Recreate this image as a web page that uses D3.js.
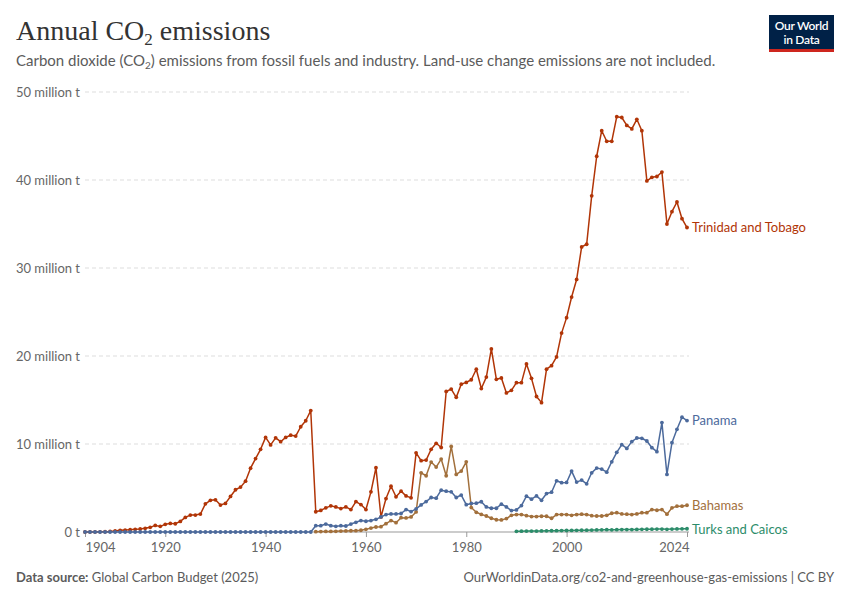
<!DOCTYPE html>
<html>
<head>
<meta charset="utf-8">
<script src="https://cdn.jsdelivr.net/npm/d3@7"></script>
<style>
  body { margin: 0; background: #fff; }
  svg { font-family: Lato, "Noto Sans", sans-serif; }
  .tick-label { fill: #666; font-size: 13px; }
  .series-label { font-size: 13px; }
</style>
</head>
<body>
<div id="chart"></div>
<script>
// chart data (million tonnes CO2)
const xTicks = [1904, 1920, 1940, 1960, 1980, 2000, 2024];
const yTicks = [0, 10, 20, 30, 40, 50];

const trinidadStart = 1904;
const trinidadValues = [
  0.0, 0.01, 0.01, 0.02, 0.03, 0.06, 0.12, 0.19, 0.22, 0.26,          // 1904-1913
  0.3, 0.34, 0.42, 0.53, 0.75, 0.64, 0.87, 0.98, 0.94, 1.2,           // 1914-1923
  1.66, 1.92, 1.92, 2.04, 3.2, 3.6, 3.66, 3.06, 3.25, 4.04,           // 1924-1933
  4.8, 5.1, 5.77, 7.25, 8.34, 9.4, 10.75, 9.9, 10.7, 10.26,           // 1934-1943
  10.75, 11.0, 10.9, 11.96, 12.64, 13.8, 2.3, 2.45, 2.74, 2.97,       // 1944-1953
  2.85, 2.66, 2.85, 2.55, 3.46, 3.12, 2.55, 4.56, 7.3, 1.71,          // 1954-1963
  3.8, 5.2, 4.0, 4.64, 4.1, 3.88, 9.0, 8.1, 8.17, 9.4,                // 1964-1973
  10.08, 9.6, 15.97, 16.24, 15.3, 16.8, 17.0, 17.3, 18.5, 16.3,       // 1974-1983
  17.6, 20.8, 17.35, 17.5, 15.8, 16.1, 16.97, 16.97, 19.1, 17.46,     // 1984-1993
  15.4, 14.7, 18.5, 18.9, 19.9, 22.6, 24.36, 26.7, 28.7, 32.4,        // 1994-2003
  32.7, 38.2, 42.7, 45.6, 44.4, 44.4, 47.2, 47.1, 46.2, 45.8,         // 2004-2013
  46.9, 45.6, 39.9, 40.3, 40.4, 40.9, 35.0, 36.4, 37.5, 35.6,         // 2014-2023
  34.6                                                                 // 2024
];

const panamaStart = 1904;
const panamaValues = [
  0, 0, 0, 0, 0, 0, 0, 0, 0, 0,                                        // 1904-1913
  0, 0, 0, 0, 0, 0, 0, 0, 0, 0,                                        // 1914-1923
  0, 0, 0, 0, 0, 0, 0, 0, 0, 0,                                        // 1924-1933
  0, 0, 0, 0, 0, 0, 0, 0, 0, 0,                                        // 1934-1943
  0, 0, 0, 0, 0, 0, 0.72, 0.72, 0.9, 0.72,                             // 1944-1953
  0.65, 0.72, 0.68, 0.9, 1.1, 1.3, 1.22, 1.3, 1.44, 1.71,             // 1954-1963
  1.98, 2.05, 2.05, 2.1, 2.55, 2.32, 2.62, 3.08, 3.46, 3.92,          // 1964-1973
  3.84, 4.75, 4.64, 4.56, 3.92, 4.2, 3.1, 3.25, 3.27, 3.44,           // 1974-1983
  2.85, 2.7, 2.7, 3.16, 2.85, 2.43, 2.51, 3.0, 4.07, 3.73,            // 1984-1993
  4.1, 3.6, 4.37, 4.52, 5.82, 5.6, 5.63, 6.92, 5.67, 5.9,             // 1994-2003
  5.48, 6.73, 7.26, 7.15, 6.8, 7.98, 9.05, 9.92, 9.5, 10.27,          // 2004-2013
  10.68, 10.65, 10.34, 9.58, 9.13, 12.43, 6.54, 10.15, 11.67, 13.04,  // 2014-2023
  12.66                                                                // 2024
];

const bahamasStart = 1950;
const bahamasValues = [
  0.04, 0.05, 0.06, 0.07, 0.08, 0.1, 0.12, 0.14, 0.15, 0.2,           // 1950-1959
  0.3, 0.45, 0.57, 0.6, 0.95, 1.3, 1.06, 1.63, 1.6, 1.71,             // 1960-1969
  2.28, 6.73, 6.39, 7.95, 7.38, 8.29, 6.39, 9.73, 6.54, 6.92,         // 1970-1979
  7.98, 2.78, 2.24, 2.0, 1.82, 1.56, 1.39, 1.37, 1.52, 1.9,           // 1980-1989
  1.98, 1.98, 1.86, 1.75, 1.75, 1.79, 1.79, 1.56, 1.98, 1.98,         // 1990-1999
  1.98, 1.9, 1.98, 2.02, 1.98, 1.86, 1.82, 1.82, 1.9, 2.13,           // 2000-2009
  2.2, 2.05, 2.02, 1.98, 2.05, 2.2, 2.2, 2.55, 2.47, 2.55,            // 2010-2019
  2.02, 2.74, 2.93, 2.93, 3.04                                         // 2020-2024
];

const turksStart = 1990;
const turksValues = [
  0.08, 0.09, 0.1, 0.1, 0.11, 0.12, 0.13, 0.14, 0.15, 0.16,           // 1990-1999
  0.17, 0.18, 0.19, 0.2, 0.21, 0.22, 0.24, 0.25, 0.26, 0.25,          // 2000-2009
  0.26, 0.27, 0.28, 0.28, 0.29, 0.3, 0.31, 0.32, 0.33, 0.33,          // 2010-2019
  0.3, 0.33, 0.35, 0.36, 0.37                                          // 2020-2024
];

const seriesNames = ["Trinidad and Tobago", "Panama", "Bahamas", "Turks and Caicos"];
const seriesColors = ["#b13507", "#4c6a9c", "#a2703c", "#2c8c6a"];

const toPoints = (start, values) => values.map((v, i) => ({year: start + i, value: v}));
const series = [
  toPoints(trinidadStart, trinidadValues),
  toPoints(panamaStart, panamaValues),
  toPoints(bahamasStart, bahamasValues),
  toPoints(turksStart, turksValues)
];

// chart static params
const width = 850, height = 600;
const plot = {left: 85, right: 687, top: 92, bottom: 532};

const svg = d3.select("#chart")
  .append("svg")
    .attr("width", width)
    .attr("height", height);

const x = d3.scaleLinear().domain([1904, 2024]).range([plot.left, plot.right]);
const y = d3.scaleLinear().domain([0, 50]).range([plot.bottom, plot.top]);

// title + subtitle
const title = svg.append("text")
  .attr("x", 16).attr("y", 40)
  .style("font-family", "'Liberation Serif', 'DejaVu Serif', serif")
  .style("font-size", "28px")
  .attr("fill", "#333");
title.append("tspan").text("Annual CO");
title.append("tspan").text("2").style("font-size", "17px").attr("dy", 5);
title.append("tspan").text(" emissions").attr("dy", -5);

const sub = svg.append("text")
  .attr("x", 16).attr("y", 66)
  .style("font-size", "15px")
  .attr("fill", "#5b5b5b");
sub.append("tspan").text("Carbon dioxide (CO");
sub.append("tspan").text("2").style("font-size", "10px").attr("dy", 3);
sub.append("tspan").text(") emissions from fossil fuels and industry. Land-use change emissions are not included.").attr("dy", -3);

// logo
const logo = svg.append("g").attr("transform", "translate(769,15)");
logo.append("rect").attr("width", 65).attr("height", 37).attr("fill", "#002147");
logo.append("rect").attr("y", 34).attr("width", 65).attr("height", 3).attr("fill", "#ce261e");
logo.append("text").attr("x", 32.5).attr("y", 15).attr("text-anchor", "middle")
  .attr("fill", "#fff").style("font-size", "12px").style("font-weight", "600")
  .style("letter-spacing", "-0.3px").text("Our World");
logo.append("text").attr("x", 32.5).attr("y", 29).attr("text-anchor", "middle")
  .attr("fill", "#fff").style("font-size", "12px").style("font-weight", "600")
  .style("letter-spacing", "-0.3px").text("in Data");

// y grid + labels
svg.append("g")
  .selectAll("line")
  .data(yTicks.filter(d => d > 0))
  .join("line")
    .attr("x1", plot.left).attr("x2", plot.right + 2)
    .attr("y1", d => y(d)).attr("y2", d => y(d))
    .attr("stroke", "#ddd")
    .attr("stroke-dasharray", "4,3");

svg.append("g")
  .selectAll("text")
  .data(yTicks)
  .join("text")
    .attr("class", "tick-label")
    .attr("x", 80)
    .attr("y", d => y(d))
    .attr("dy", "0.35em")
    .attr("text-anchor", "end")
    .text(d => d === 0 ? "0 t" : d + " million t");

// x axis
const xAxis = svg.append("g")
  .attr("transform", `translate(0,${plot.bottom})`)
  .call(d3.axisBottom(x).tickValues(xTicks).tickSize(5).tickFormat(d3.format("d")).tickSizeOuter(0));
xAxis.select(".domain").attr("stroke", "#999").attr("d", `M${plot.left},0H${plot.right + 2}`);
xAxis.selectAll(".tick line").attr("stroke", "#999");
xAxis.selectAll(".tick text")
  .attr("class", "tick-label")
  .attr("fill", "#666")
  .style("font-family", "Lato, sans-serif")
  .attr("dy", "0.95em")
  .attr("text-anchor", d => d === 1904 ? "start" : d === 2024 ? "end" : "middle")
  .attr("dx", d => d === 2024 ? 2 : 0);

// lines
const line = d3.line().x(d => x(d.year)).y(d => y(d.value));

// draw bottom series first so Trinidad sits on top
const order = [3, 2, 0, 1];
order.forEach(i => {
  const g = svg.append("g");
  g.append("path")
    .datum(series[i])
    .attr("fill", "none")
    .attr("stroke", seriesColors[i])
    .attr("stroke-width", 1.5)
    .attr("stroke-linejoin", "round")
    .attr("d", line);
  g.selectAll("circle")
    .data(series[i])
    .join("circle")
      .attr("cx", d => x(d.year))
      .attr("cy", d => y(d.value))
      .attr("r", 1.9)
      .attr("fill", seriesColors[i]);
});

// end labels
const labelOffsets = [0, 0, 0, 1];
series.forEach((s, i) => {
  const last = s[s.length - 1];
  svg.append("text")
    .attr("class", "series-label")
    .attr("x", x(last.year) + 5)
    .attr("y", y(last.value) + labelOffsets[i])
    .attr("dy", "0.35em")
    .attr("fill", seriesColors[i])
    .text(seriesNames[i]);
});

// footer
const src = svg.append("text")
  .attr("x", 16).attr("y", 582)
  .style("font-size", "13px")
  .attr("fill", "#5b5b5b");
src.append("tspan").text("Data source:").style("font-weight", "700");
src.append("tspan").text(" Global Carbon Budget (2025)");

svg.append("text")
  .attr("x", 834).attr("y", 582)
  .attr("text-anchor", "end")
  .style("font-size", "13px")
  .attr("fill", "#5b5b5b")
  .text("OurWorldinData.org/co2-and-greenhouse-gas-emissions | CC BY");
</script>
</body>
</html>
